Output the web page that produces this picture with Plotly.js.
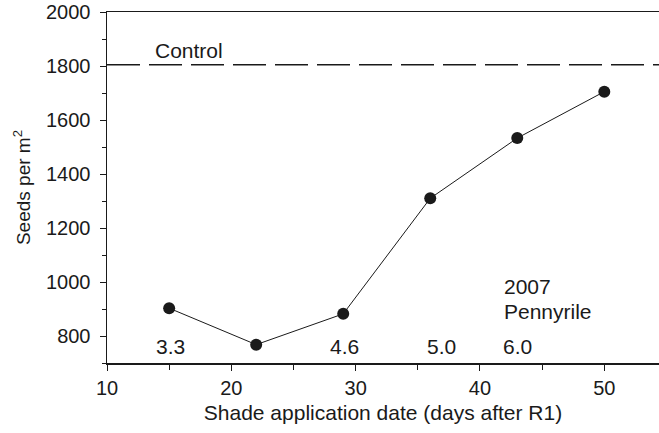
<!DOCTYPE html>
<html>
<head>
<meta charset="utf-8">
<script src="https://cdn.plot.ly/plotly-3.0.1.min.js"></script>
<style>html,body{margin:0;padding:0;background:#fff;}#chart{width:659px;height:433px;}</style>
</head>
<body>
<div id="chart"></div>
<script>
// Data
const shadeDays = [15, 22, 29, 36, 43, 50];
const seedsPerM2 = [903, 768, 882, 1310, 1533, 1705];
const controlValue = 1805;
const controlLabel = "Control";
const pointLabels = ["3.3", "4.6", "5.0", "6.0"];
const pointLabelX = [15.1, 29.1, 36.9, 43.0];
const pointLabelY = [760, 760, 760, 760];
const siteLabel = ["2007", "Pennyrile"];
const siteLabelY = [982, 890];
const xTicks = [10, 20, 30, 40, 50];
const yTicks = [800, 1000, 1200, 1400, 1600, 1800, 2000];

const ink = "#1a1a1a";
const fontFam = "Liberation Sans, Arial, Helvetica, sans-serif";
const fs = 20;
const fa = 21;

const traces = [
  {
    x: [10, 54.5], y: [controlValue, controlValue],
    mode: "lines", type: "scatter",
    line: {color: ink, width: 1.5, dash: "33px,9px"},
    hoverinfo: "skip", showlegend: false
  },
  {
    x: shadeDays, y: seedsPerM2,
    mode: "lines+markers", type: "scatter",
    line: {color: ink, width: 1},
    marker: {color: ink, size: 12},
    showlegend: false
  }
];

const annotations = [];
pointLabels.forEach((t, i) => annotations.push({
  x: pointLabelX[i], y: pointLabelY[i], text: t, showarrow: false,
  xanchor: "center", yanchor: "middle", font: {size: fa, color: ink, family: fontFam}
}));
annotations.push({x: 13.7, y: 1859, text: controlLabel, showarrow: false,
  xanchor: "left", yanchor: "middle", font: {size: fa, color: ink, family: fontFam}});
siteLabel.forEach((t, i) => annotations.push({x: 41.75, y: siteLabelY[i], text: t, showarrow: false,
  xanchor: "left", yanchor: "middle", font: {size: fa, color: ink, family: fontFam}}));

const layout = {
  width: 659, height: 433,
  margin: {l: 107, r: 0, t: 12, b: 70},
  paper_bgcolor: "#fff", plot_bgcolor: "#fff",
  font: {family: fontFam, size: fs, color: ink},
  showlegend: false,
  xaxis: {
    range: [10, 54.4], tickvals: xTicks, ticks: "outside", ticklen: 6, tickwidth: 1, tickcolor: ink,
    minor: {dtick: 5, tick0: 0, ticks: "outside", ticklen: 5, tickwidth: 1, tickcolor: ink},
    showline: true, linecolor: ink, linewidth: 1.5, mirror: true,
    showgrid: false, zeroline: false, ticklabelstandoff: 0,
    tickfont: {size: fs, color: ink},
    title: {text: "Shade application date (days after R1)", font: {size: fa, color: ink}, standoff: 8}
  },
  yaxis: {
    range: [700, 2000], tickvals: yTicks, ticks: "outside", ticklen: 6, tickwidth: 1, tickcolor: ink,
    minor: {dtick: 100, tick0: 0, ticks: "outside", ticklen: 4, tickwidth: 1, tickcolor: ink},
    showline: true, linecolor: ink, linewidth: 1.5,
    showgrid: false, zeroline: false, ticklabelstandoff: 5,
    tickfont: {size: fs, color: ink},
    title: {text: "Seeds per m<sup>2</sup>", font: {size: 19, color: ink}, standoff: 10}
  },
  annotations: annotations
};

Plotly.newPlot("chart", traces, layout, {displayModeBar: false, staticPlot: true});
</script>
</body>
</html>
